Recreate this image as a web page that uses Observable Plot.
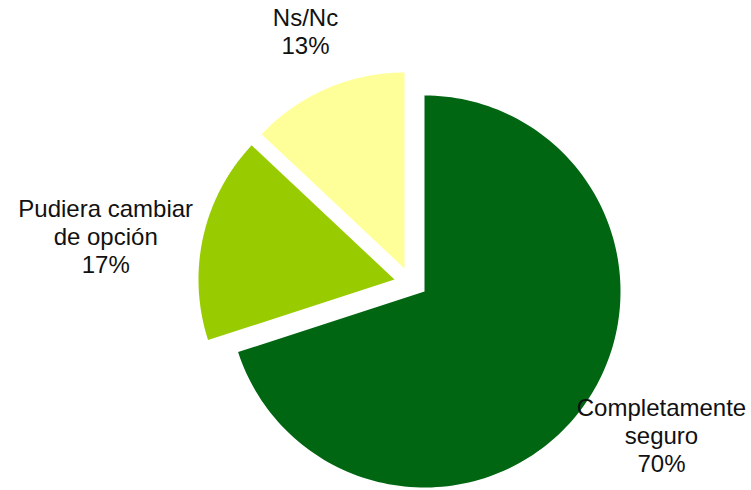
<!DOCTYPE html>
<html>
<head>
<meta charset="utf-8">
<script src="https://cdn.jsdelivr.net/npm/d3@7"></script>
<script src="https://cdn.jsdelivr.net/npm/@observablehq/plot@0.6"></script>
<style>
  html, body { margin: 0; padding: 0; background: #ffffff; }
  #chart svg { display: block; }
</style>
</head>
<body>
<div id="chart"></div>
<script>
// ---- data ----
const categories = ["Completamente seguro", "Pudiera cambiar de opción", "Ns/Nc"];
const labelLines = ["Completamente\nseguro", "Pudiera cambiar\nde opción", "Ns/Nc"];
const values = [70, 17, 13];
const colors = ["#006611", "#99cc00", "#ffff99"];

// ---- layout (style constants) ----
const W = 751, H = 490;
const R = 196;            // pie radius in px
const CX = 424, CY = 291; // pie centre in px
const explode = [[0, 0], [-30, -12], [-20, -23]]; // px offsets for exploded slices
const labelK = 1.4;
const labelNudge = [[15, -18], [-21, 16], [10, 14]];

const arcs = d3.pie().sort(null).value(d => d)(values);

const slicePolys = arcs.map((a, i) => {
  const pts = [{x: 0, y: 0, cat: categories[i]}];
  const n = 160;
  for (let j = 0; j <= n; j++) {
    const t = a.startAngle + (a.endAngle - a.startAngle) * j / n;
    pts.push({x: Math.sin(t), y: Math.cos(t), cat: categories[i]});
  }
  pts.push({x: 0, y: 0, cat: categories[i]});
  return pts;
});

const labels = arcs.map((a, i) => {
  const m = (a.startAngle + a.endAngle) / 2;
  return {
    x: Math.sin(m) * labelK,
    y: Math.cos(m) * labelK,
    text: labelLines[i] + "\n" + values[i] + "%"
  };
});

const marks = [];
slicePolys.forEach((pts, i) => {
  marks.push(Plot.line(pts, {
    x: "x", y: "y", fill: colors[i], stroke: "none", curve: "linear",
    dx: explode[i][0], dy: explode[i][1]
  }));
});
labels.forEach((d, i) => {
  marks.push(Plot.text([d], {
    x: "x", y: "y", text: "text",
    fontSize: 24, fontFamily: "Liberation Sans, Arial, sans-serif",
    lineHeight: 1.17, fill: "#111",
    textAnchor: "middle", lineAnchor: "middle",
    dx: explode[i][0] + labelNudge[i][0],
    dy: explode[i][1] + labelNudge[i][1]
  }));
});

const chart = Plot.plot({
  width: W, height: H, margin: 0,
  x: {domain: [-CX / R, (W - CX) / R], axis: null},
  y: {domain: [-(H - CY) / R, CY / R], axis: null},
  style: {background: "#ffffff"},
  marks
});
document.getElementById("chart").appendChild(chart);
</script>
</body>
</html>
